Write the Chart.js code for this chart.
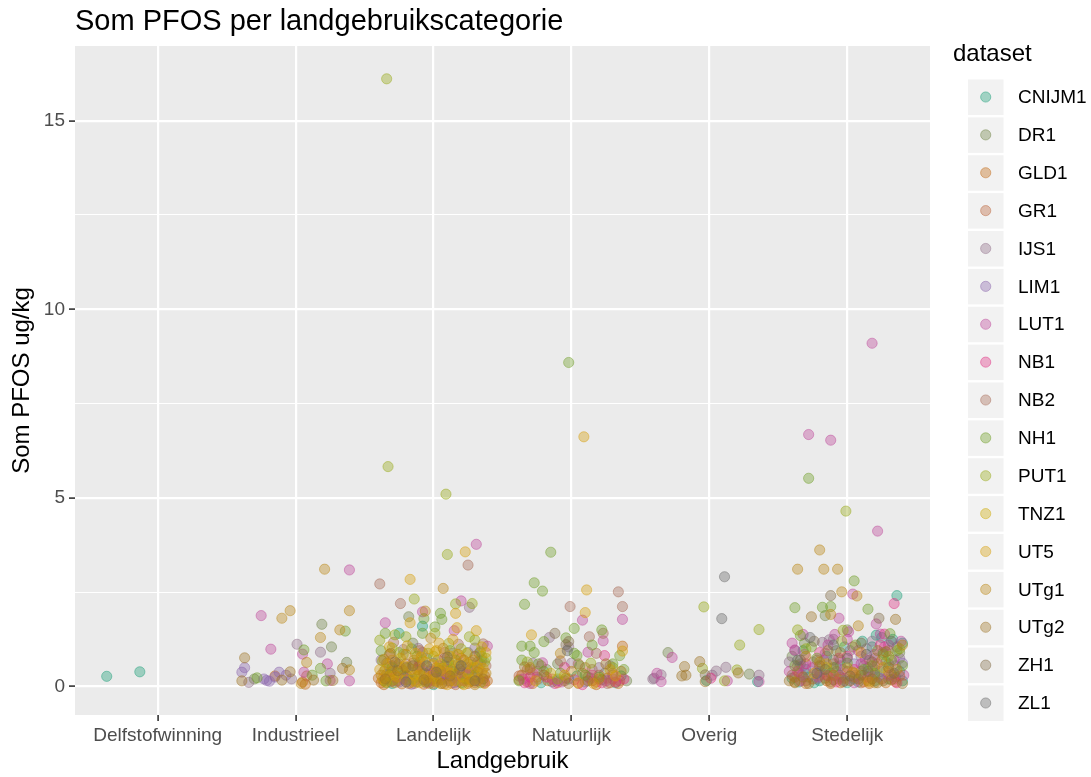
<!DOCTYPE html>
<html>
<head>
<meta charset="utf-8">
<script src="https://cdn.jsdelivr.net/npm/chart.js@4"></script>
<style>
html,body{margin:0;padding:0;background:#ffffff;}
canvas{display:block;}
</style>
</head>
<body>
<canvas id="c" width="1091" height="777"></canvas>
<script>
// ---- data ----
const categories = ['Delfstofwinning','Industrieel','Landelijk','Natuurlijk','Overig','Stedelijk'];
const yTickValues = [0, 2.5, 5, 7.5, 10, 12.5, 15];
const yLabelValues = [0, 5, 10, 15];
const datasetNames = ['CNIJM1','DR1','GLD1','GR1','IJS1','LIM1','LUT1','NB1','NB2','NH1','PUT1','TNZ1','UT5','UTg1','UTg2','ZH1','ZL1'];

// points: [jittered category position (1 = Delfstofwinning ... 6 = Stedelijk), Som PFOS ug/kg]
const CNIJM1 = [[0.63,0.27],[0.87,0.39],
 [2.92,1.60],[2.75,1.41],[2.95,0.15],[2.88,0.12],[3.05,0.18],[2.78,0.30],[3.20,0.10],[2.70,0.08],[3.12,0.42],
 [2.82,0.18],[3.00,0.05],[3.16,0.32],[2.64,0.15],
 [3.98,0.20],[4.36,0.28],[3.78,0.10],[4.10,0.12],[4.22,0.18],[3.86,0.12],[4.04,0.28],[4.32,0.10],
 [4.98,0.16],[5.35,0.13],
 [6.36,2.41],[6.11,1.20],[6.21,1.36],[6.25,1.30],[5.70,0.45],[5.85,0.80],[6.05,0.20],[6.30,0.20],[6.35,0.25],[5.90,0.18],[5.80,0.15],[6.15,0.50],[6.28,0.65],[5.72,0.25],[6.20,0.15],[5.95,0.55],[6.38,0.40],[5.65,0.12],[6.00,0.10],[6.18,1.05],[6.33,1.25],[5.88,0.35],
 [5.60,0.22],[5.76,0.10],[5.94,0.30],[6.08,0.12],[6.24,0.40],[6.40,0.15],[6.12,0.30],[5.82,0.55],
 [5.68,0.95],[5.98,1.05],[6.26,0.90],[6.40,1.15]];
const DR1 = [[2.19,1.65],[2.26,1.05],[2.37,0.64],[1.70,0.20],
 [2.82,1.85],[2.85,1.15],[3.15,0.40],[2.68,0.30],[3.32,0.65],[2.75,0.60],[3.05,0.22],[3.25,0.90],
 [4.40,0.15],[3.90,0.60],[4.12,0.25],[3.82,0.45],[4.24,0.35],
 [4.70,0.90],[5.29,0.33],
 [5.84,1.88],[6.00,1.50],[5.69,1.15],[6.30,0.60],[5.95,0.25],[6.38,0.90],[5.78,0.40],[5.60,0.80],[5.92,0.95],[6.12,0.55],[6.26,0.15],[5.66,0.60],[6.20,0.75]];
const GLD1 = [[2.05,0.12],[2.07,0.06],[1.85,0.28],
 [2.62,0.10],[2.66,0.32],[2.70,0.55],[2.74,0.15],[2.78,0.42],[2.82,0.08],[2.85,0.62],[2.88,0.25],[2.92,0.48],[2.96,0.12],[3.00,0.35],[3.03,0.70],[3.06,0.18],[3.10,0.52],[3.13,0.09],[3.16,0.30],[3.20,0.75],[3.23,0.20],[3.27,0.45],[3.30,0.10],[3.34,0.60],[3.37,0.28],[2.68,0.85],[3.08,0.90],[2.90,0.95],
 [2.60,0.22],[2.64,0.05],[2.69,0.38],[2.73,0.62],[2.77,0.07],[2.81,0.28],[2.86,0.15],[2.89,0.52],[2.93,0.06],[2.97,0.40],[3.01,0.14],[3.04,0.28],[3.08,0.07],[3.11,0.65],[3.14,0.22],[3.18,0.12],[3.21,0.40],[3.25,0.08],[3.31,0.25],[3.39,0.15],
 [4.37,1.07],[3.68,0.12],[3.75,0.25],[3.90,0.10],[4.15,0.15],[4.28,0.10],[4.36,0.40],[3.62,0.18],[4.05,0.08],[4.20,0.30],
 [3.64,0.30],[3.72,0.08],[3.83,0.15],[3.96,0.22],[4.08,0.35],[4.18,0.05],[4.26,0.22],[4.34,0.08],
 [5.75,0.20],[5.95,0.10],[6.20,0.30],[6.35,0.12],[5.65,0.35],[5.85,0.15],[6.05,0.25],[6.28,0.10],[5.70,0.08],[6.12,0.12],[5.92,0.40],[6.38,0.28],
 [5.62,0.25],[5.80,0.30],[5.98,0.22],[6.16,0.08],[6.32,0.32],[5.88,0.08]];
const GR1 = [[2.08,0.28],
 [2.70,0.15],[2.90,0.65],[3.10,0.22],[3.28,0.50],[2.80,0.30],[3.36,0.12],[3.00,0.08],[2.64,0.40],[3.18,0.85],
 [2.66,0.62],[2.86,0.08],[3.04,0.55],[3.16,0.05],[3.24,0.35],[3.33,0.88],
 [3.72,0.35],[4.05,0.60],[4.30,0.20],[3.62,0.28],[4.18,0.12],[3.68,0.45],[3.86,0.20],[4.10,0.50],[4.35,0.15],
 [5.70,0.15],[6.00,0.40],[6.25,0.20],[5.85,0.30],[6.10,0.10],[5.64,0.55],[5.94,0.20],[6.16,0.70],[6.34,0.20],[6.04,1.05]];
const IJS1 = [[2.18,0.91],[2.01,1.12],[1.66,0.11],[2.25,0.35],[1.97,0.20],
 [3.26,2.10],[2.89,1.01],[2.62,0.70],[3.20,0.35],[2.95,0.75],[3.08,0.55],
 [2.68,0.52],[2.83,0.35],[3.00,0.62],[3.13,0.25],[3.28,0.30],[3.35,0.70],[2.78,0.98],[3.30,1.02],
 [3.84,1.30],[4.20,0.50],[3.76,0.20],[3.98,1.05],[3.72,0.62],[4.00,0.62],[4.28,0.55],
 [5.12,0.51],[5.05,0.41],[4.65,0.31],[4.60,0.22],[5.02,0.30],[5.36,0.30],[4.59,0.20],
 [5.87,1.24],[5.82,1.17],[5.65,0.50],[5.75,0.65],[6.10,0.80],[6.35,0.55],[5.95,0.70],[6.20,0.45],[5.67,0.30],[6.02,0.95],[5.78,0.20],
 [5.58,0.65],[5.70,0.35],[5.84,0.88],[5.92,0.52],[6.06,0.30],[6.14,1.00],[6.28,0.40],[6.38,0.75],
 [5.62,0.95],[5.90,1.25],[6.18,1.20],[6.36,1.05]];
const LIM1 = [[1.63,0.50],[1.61,0.38],[1.88,0.38],[1.79,0.16],[1.81,0.14],[1.77,0.20],[1.85,0.25],[1.93,0.30],
 [2.90,0.20],[3.05,0.32],[3.15,0.10],[2.98,0.45],[2.75,0.12],[2.84,0.06],[3.10,0.15],[3.23,0.30],[3.33,0.45],
 [3.90,0.15],
 [5.80,0.40],[6.05,0.60],[5.98,0.15],[5.68,0.55],[6.22,0.25],[6.40,0.62]];
const LUT1 = [[2.39,3.09],[1.75,1.88],[1.82,0.99],[2.05,0.86],[2.23,0.60],[2.06,0.38],[2.25,0.16],[2.39,0.15],
 [3.31,3.77],[3.20,2.27],[2.92,1.98],[2.65,1.69],[3.15,1.48],[3.39,1.07],[3.10,0.45],[2.95,0.10],
 [2.78,0.20],[3.07,0.30],[3.25,0.50],[3.37,0.10],
 [4.08,1.76],[4.37,1.78],[4.23,1.21],[4.12,0.91],[3.79,0.63],[3.65,0.20],[3.70,0.08],[4.25,0.15],
 [3.75,0.40],[3.93,0.12],[4.14,0.22],[4.30,0.35],
 [4.73,0.77],[4.62,0.35],[4.65,0.13],[5.13,0.15],[5.36,0.13],
 [6.18,9.10],[5.72,6.68],[5.88,6.53],[6.22,4.12],[6.04,2.45],[5.94,1.81],[6.21,1.66],[6.01,1.45],[5.68,1.38],[5.91,1.38],[6.24,1.39],[5.62,0.97],[6.39,1.20],[5.75,0.50],[5.90,0.30],[6.10,0.60],[6.30,0.30],[6.20,0.85],[5.66,0.15],[6.05,0.10],
 [5.58,0.40],[5.69,0.85],[5.79,0.25],[5.86,1.10],[5.97,0.45],[6.08,0.95],[6.16,0.35],[6.27,1.05],[6.34,0.70],[6.41,0.30],
 [5.60,1.15],[5.83,0.70],[6.00,1.25],[6.13,0.72],[6.30,1.10]];
const NB1 = [[3.00,0.40],[2.72,0.25],[3.22,0.15],[2.90,0.55],[3.32,0.15],
 [4.24,0.82],[3.66,0.10],[3.95,0.50],[4.15,0.30],[4.32,0.12],[3.82,0.25],[4.08,0.05],
 [3.70,0.25],[3.88,0.08],[4.02,0.18],[4.22,0.10],[4.38,0.20],
 [5.01,0.22],
 [6.34,2.20],[6.27,1.39],[5.80,0.90],[6.15,0.25],[5.70,0.60],[6.05,0.45],[5.92,0.12],
 [5.64,0.40],[5.86,0.28],[6.00,0.80],[6.22,0.60],[6.36,0.10],[5.94,0.75],[6.24,1.10]];
const NB2 = [[2.61,2.72],[3.25,3.22],[2.76,2.20],[2.71,1.17],[3.18,1.12],[3.36,1.13],[2.80,0.60],[3.20,0.25],
 [2.69,0.12],[2.95,0.32],[3.08,0.75],[3.27,0.65],[3.38,0.55],[2.92,0.90],[3.14,0.88],
 [4.34,2.51],[3.99,2.12],[4.37,2.12],[4.23,1.41],[4.13,1.32],[4.18,0.88],[3.92,0.68],[3.70,0.45],[4.30,0.30],
 [3.78,0.55],[3.95,0.15],[4.15,0.45],[4.26,0.08],
 [5.78,0.70],[6.20,0.55],[5.60,0.30],[5.90,0.60],[6.10,0.40],[6.30,0.95]];
const NH1 = [[2.36,1.47],[2.06,0.97],[1.72,0.23],[2.12,0.30],[2.22,0.15],[2.18,0.48],
 [3.05,1.94],[3.06,1.78],[2.93,1.80],[3.01,1.58],[2.65,1.41],[2.92,1.41],[2.70,0.50],[3.10,0.65],[3.30,0.30],[2.85,0.20],
 [2.66,0.10],[2.76,0.35],[2.94,0.12],[3.04,0.48],[3.16,0.70],[3.24,0.20],[3.34,0.10],[2.88,0.80],
 [2.62,0.95],[2.84,1.00],[3.12,0.95],[3.34,0.92],
 [3.98,8.59],[3.85,3.56],[3.73,2.75],[3.79,2.53],[3.66,2.18],[4.02,1.54],[4.22,1.50],[3.96,1.29],[3.64,1.07],[3.70,1.07],[3.80,1.19],[3.73,0.90],[4.15,1.10],[4.02,0.88],[3.64,0.70],[4.04,0.82],[4.35,0.82],[3.80,0.40],[4.10,0.30],[4.30,0.60],
 [3.62,0.15],[3.76,0.60],[3.92,0.35],[4.06,0.55],[4.20,0.25],[4.38,0.45],
 [5.72,5.52],[6.05,2.80],[5.62,2.09],[5.82,2.10],[5.88,2.12],[6.15,2.05],[5.66,1.35],[6.31,1.40],[6.36,0.95],[5.90,0.50],[6.20,0.35],
 [5.62,0.55],[5.78,0.75],[6.00,0.62],[6.12,0.45],[6.26,0.85],[6.40,0.55],[5.74,1.05],[6.06,1.10],[6.32,0.70]];
const PUT1 = [[2.66,16.11],[2.67,5.83],[3.09,5.10],[3.10,3.50],[2.86,2.32],[3.28,2.20],[3.16,2.19],[3.01,1.41],[2.61,1.23],[2.72,1.37],[2.80,1.32],[3.26,1.32],[3.30,1.23],[3.11,1.14],[2.75,0.90],[3.00,0.80],[3.25,0.60],[2.90,0.40],[3.35,0.80],[2.65,0.45],
 [2.63,0.68],[2.71,0.18],[2.82,0.50],[2.92,0.68],[3.02,0.25],[3.13,0.45],[3.21,0.08],[3.30,0.50],[3.37,0.65],[2.78,0.85],
 [2.70,1.02],[2.96,0.88],[3.20,1.00],[3.38,0.75],
 [4.30,0.50],[3.90,0.20],[3.68,0.65],[4.14,0.62],
 [4.96,2.11],[5.36,1.51],[5.22,1.10],[4.95,0.48],[5.20,0.44],[5.11,0.15],
 [5.99,4.65],[5.64,1.50],[5.97,1.49],[5.85,0.50],[6.30,0.80],[5.70,1.00],[5.96,1.20],[6.18,0.55],[6.38,1.00]];
const TNZ1 = [[2.76,0.50],[3.05,0.60],[3.24,0.88],[2.90,0.30],[3.35,1.05],
 [2.68,0.28],[2.87,0.12],[3.01,0.92],[3.15,0.55],[3.27,0.18],[3.35,0.38],
 [3.85,0.35],
 [6.05,0.35],[6.26,0.50]];
const UT5 = [[2.83,2.84],[3.16,1.94],[3.23,3.57],[2.83,1.69],[3.17,1.56],[3.31,1.48],[2.81,1.08],[3.04,1.15],
 [2.63,0.20],[2.67,0.60],[2.72,0.30],[2.76,0.75],[2.80,0.18],[2.84,0.45],[2.87,0.88],[2.90,0.10],[2.94,0.65],[2.98,0.27],[3.02,0.50],[3.05,0.08],[3.09,0.38],[3.12,0.80],[3.15,0.15],[3.19,0.55],[3.22,0.05],[3.25,0.35],[3.29,0.70],[3.33,0.20],[3.36,0.48],[3.38,0.90],[2.97,1.00],[3.14,1.25],
 [2.61,0.45],[2.65,0.12],[2.70,0.70],[2.74,0.25],[2.79,0.55],[2.83,0.10],[2.86,0.30],[2.91,0.78],[2.95,0.22],[2.99,0.58],[3.03,0.12],[3.07,0.48],[3.10,0.05],[3.13,0.35],[3.17,0.85],[3.21,0.25],[3.24,0.62],[3.28,0.15],[3.32,0.52],[3.37,0.08],
 [2.68,1.05],[3.02,0.95],
 [4.09,6.62],[4.11,2.56],[4.10,1.96],[3.71,1.37],[4.37,0.94],[4.28,0.45],[3.95,0.30],[4.05,0.10],[3.74,0.15],[4.16,0.08],[4.32,0.28],
 [5.85,0.60],[6.10,0.90],[6.30,0.40],[5.76,0.35],[6.16,0.12]];
const UTg1 = [[2.21,3.11],[1.90,1.81],[1.96,2.01],[2.39,2.01],[2.18,1.30],[2.32,1.50],[2.08,0.64],[2.39,0.44],[2.04,0.08],
 [3.07,2.60],[2.94,2.00],[2.98,1.28],[3.07,1.01],[2.70,0.40],[2.86,0.70],[3.00,0.20],[3.18,0.60],[3.32,0.38],[2.64,0.72],[3.26,0.12],[2.93,0.35],
 [2.62,0.30],[2.72,0.10],[2.80,0.85],[2.88,0.45],[2.97,0.08],[3.05,0.42],[3.12,0.15],[3.22,0.70],[3.30,0.05],[3.38,0.35],
 [3.92,0.88],[4.00,0.40],[4.20,0.20],[3.70,0.50],
 [5.80,3.62],[5.64,3.11],[5.83,3.11],[5.93,3.11],[5.96,2.51],[6.07,2.40],[5.88,1.91],[6.08,1.61],[6.40,1.10],[5.70,0.80],[6.00,0.50],[6.25,0.70],[5.90,0.30],[6.15,0.15],
 [5.62,0.12],[5.80,0.65],[6.04,0.38],[6.20,0.10],[6.36,0.45]];
const UTg2 = [[1.63,0.76],[2.34,0.48],[1.96,0.39],[1.61,0.15],[2.13,0.17],[2.27,0.16],[1.90,0.17],
 [2.69,0.88],[2.80,0.50],[3.12,0.28],[3.30,0.80],[2.65,0.20],[2.74,0.42],[2.93,0.18],[3.06,0.08],[3.19,0.45],[3.36,0.20],
 [3.80,0.30],[4.25,0.60],[3.66,0.52],[3.98,0.08],[4.12,0.15],
 [4.93,0.66],[4.82,0.53],[5.21,0.36],[4.80,0.28],[4.83,0.30],[4.97,0.13],
 [5.74,1.85],[6.35,1.78],[5.80,0.55],[5.95,0.90],[6.10,0.30],[6.30,0.50],[5.68,0.25],[6.22,0.95],[5.88,0.12],[6.02,0.15],[5.62,0.10],[6.18,0.20],
 [5.58,0.15],[5.72,0.08],[5.84,0.22],[5.97,0.12],[6.08,0.20],[6.22,0.10],[6.32,0.18],[6.40,0.08],[5.86,0.95],[6.28,0.92]];
const ZH1 = [[2.85,0.55],[3.10,0.78],[2.72,0.65],[3.02,0.38],[3.30,0.15],
 [3.88,1.41],[3.98,1.19],[3.96,1.11],
 [4.97,0.31],
 [5.88,2.41],[6.23,1.81],[5.90,0.70],[6.15,0.40],[5.66,0.70],[5.84,0.45],[6.02,0.28],[6.18,0.65],[6.34,0.35],[5.76,1.20],[6.10,1.15]];
const ZL1 = [[2.95,0.55],[2.80,0.12],[3.20,0.55],
 [3.97,0.95],
 [5.11,2.91],[5.09,1.80],
 [5.73,1.30],[5.90,1.10],[6.00,0.75],[5.78,0.35],[5.64,0.70],[6.14,0.85],[6.32,1.20]];

const seriesValues = [CNIJM1, DR1, GLD1, GR1, IJS1, LIM1, LUT1, NB1, NB2, NH1, PUT1, TNZ1, UT5, UTg1, UTg2, ZH1, ZL1];

// ---- styles ----
const seriesColors = ['#1B9E77','#6E8244','#C16711','#BA6439','#8E6C87','#8A63AB','#BC4499','#DF3183','#A66854','#6E9E25','#96A814','#CEAA07','#D69E09','#BA8715','#9E7426','#826D46','#666666'];
function rgba(hex, a){
  const n = parseInt(hex.slice(1),16);
  return 'rgba(' + ((n>>16)&255) + ',' + ((n>>8)&255) + ',' + (n&255) + ',' + a + ')';
}
const FONT = '"Liberation Sans", Arial, Helvetica, sans-serif';
const PT_R = 5.1;

const panelBg = {
  id: 'panelBg',
  beforeDraw(chart){
    const {ctx, chartArea:a} = chart;
    ctx.save();
    ctx.fillStyle = '#FFFFFF';
    ctx.fillRect(0,0,chart.width,chart.height);
    ctx.fillStyle = '#EBEBEB';
    ctx.fillRect(a.left, a.top, a.right-a.left, a.bottom-a.top);
    ctx.restore();
  }
};

const titleAndLegend = {
  id: 'titleAndLegend',
  afterDraw(chart){
    const ctx = chart.ctx;
    ctx.save();
    ctx.fillStyle = '#000000';
    ctx.textAlign = 'left';
    ctx.textBaseline = 'alphabetic';
    ctx.font = '29px ' + FONT;
    ctx.fillText('Som PFOS per landgebruikscategorie', chart.chartArea.left, 30);

    // legend
    ctx.font = '24px ' + FONT;
    ctx.fillText('dataset', 953, 61);
    const step = 37.875, y0 = 97;
    chart.data.datasets.forEach((ds, i) => {
      const cy = y0 + step*i;
      ctx.fillStyle = '#F2F2F2';
      ctx.fillRect(968, cy - 17.5, 35.5, 35.5);
      ctx.beginPath();
      ctx.arc(985.7, cy, PT_R, 0, Math.PI*2);
      ctx.fillStyle = ds.backgroundColor;
      ctx.fill();
      ctx.lineWidth = 1;
      ctx.strokeStyle = ds.borderColor;
      ctx.stroke();
      ctx.fillStyle = '#000000';
      ctx.font = '19px ' + FONT;
      ctx.textBaseline = 'middle';
      ctx.fillText(ds.label, 1018, cy + 1);
    });
    ctx.restore();
  }
};

const datasets = datasetNames.map((name, i) => ({
  label: name,
  data: seriesValues[i].map(p => ({x: p[0], y: p[1]})),
  backgroundColor: rgba(seriesColors[i], 0.38),
  borderColor: rgba(seriesColors[i], 0.45),
  borderWidth: 1,
  pointRadius: PT_R,
  pointHoverRadius: PT_R,
  order: datasetNames.length - i
}));

new Chart(document.getElementById('c'), {
  type: 'scatter',
  data: { datasets },
  plugins: [panelBg, titleAndLegend],
  options: {
    responsive: false,
    animation: false,
    events: [],
    layout: { padding: { left: 0, right: 161, top: 46, bottom: 0 } },
    plugins: { legend: { display: false }, tooltip: { enabled: false }, title: { display: false } },
    scales: {
      x: {
        type: 'linear',
        min: 0.4, max: 6.6,
        afterBuildTicks(scale){ scale.ticks = categories.map((c, i) => ({ value: i + 1 })); },
        afterFit(scale){ scale.height = 62; },
        border: { display: false },
        grid: { color: '#FFFFFF', lineWidth: 2.2, tickColor: '#333333', tickWidth: 1.6, tickLength: 6, drawTicks: true },
        ticks: {
          autoSkip: false, maxRotation: 0, padding: 3,
          color: '#4D4D4D', font: { family: FONT, size: 19 },
          callback(v){ return categories[Math.round(v) - 1] || ''; }
        },
        title: { display: true, text: 'Landgebruik', color: '#000000', font: { family: FONT, size: 24 }, padding: { top: 0, bottom: 1 } }
      },
      y: {
        type: 'linear',
        min: -0.755, max: 16.98,
        afterBuildTicks(scale){ scale.ticks = yTickValues.map(v => ({ value: v })); },
        afterFit(scale){ scale.width = 75; },
        border: { display: false },
        grid: {
          color: '#FFFFFF',
          lineWidth: ctx => (yLabelValues.includes(ctx.tick && ctx.tick.value) ? 2.2 : 1.1),
          tickColor: ctx => (yLabelValues.includes(ctx.tick && ctx.tick.value) ? '#333333' : 'rgba(0,0,0,0)'),
          tickWidth: 1.6,
          tickLength: 6,
          drawTicks: true
        },
        ticks: {
          autoSkip: false, padding: 4,
          color: '#4D4D4D', font: { family: FONT, size: 19 },
          callback(v){ return yLabelValues.includes(v) ? String(v) : ''; }
        },
        title: { display: true, text: 'Som PFOS ug/kg', color: '#000000', font: { family: FONT, size: 24 }, padding: { top: 8, bottom: 0 } }
      }
    }
  }
});
</script>
</body>
</html>
